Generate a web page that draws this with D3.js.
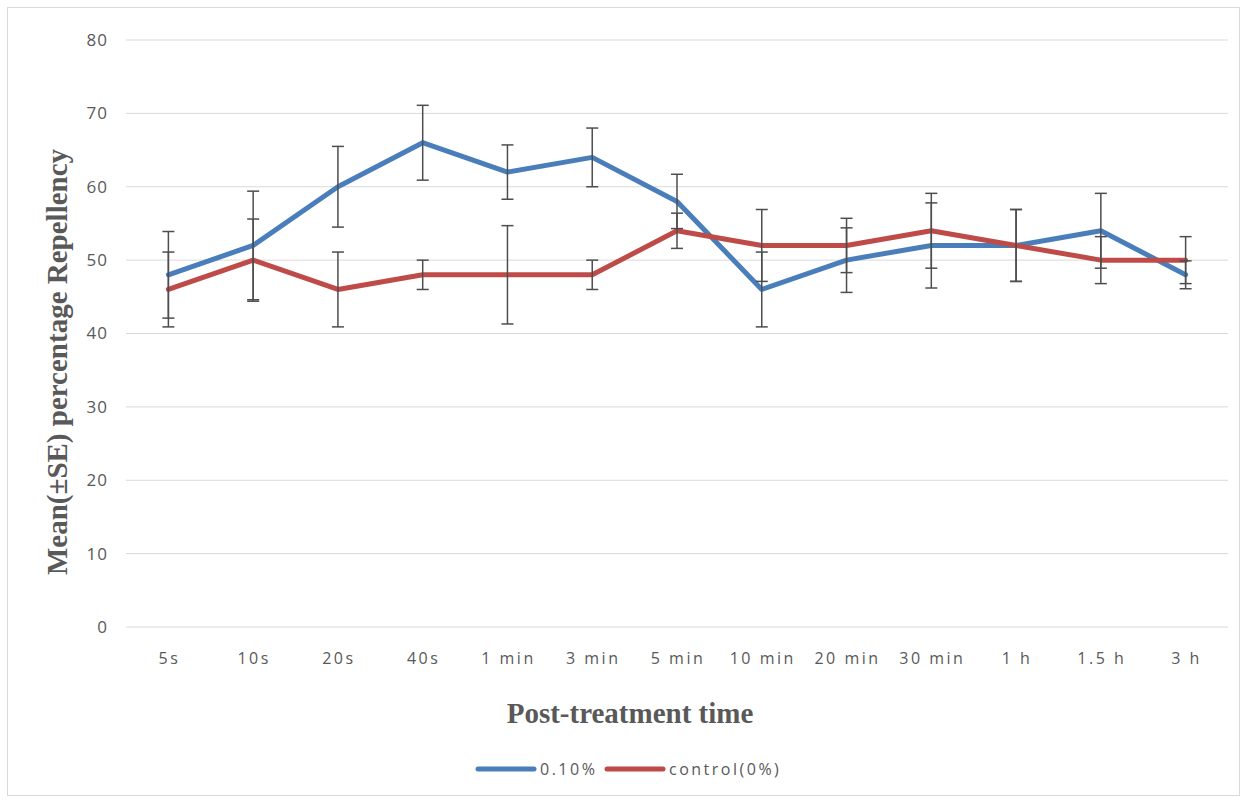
<!DOCTYPE html>
<html lang="en">
<head>
  <meta charset="UTF-8">
  <title>Repellency over time</title>
  <script src="https://d3js.org/d3.v7.min.js"></script>
  <style>
    body {
      margin: 0;
      background: #ffffff;
    }
    svg {
      display: block;
    }
    .tick-label {
      font-family: 'Open Sans', 'Liberation Sans', sans-serif;
      font-size: 16px;
      letter-spacing: 2.5px;
      fill: #595959;
    }
    .axis-title {
      font-family: 'Liberation Serif', 'DejaVu Serif', serif;
      font-weight: bold;
      font-size: 29px;
      fill: #595959;
    }
    .legend-label {
      font-family: 'Open Sans', 'Liberation Sans', sans-serif;
      font-size: 16px;
      letter-spacing: 2.5px;
      fill: #595959;
    }
  </style>
</head>
<body>
<svg width="1246" height="801"></svg>

<script>
// data
const categories = ["5s", "10s", "20s", "40s", "1 min", "3 min", "5 min", "10 min", "20 min", "30 min", "1 h", "1.5 h", "3 h"];
const treatMean = [48, 52, 60, 66, 62, 64, 58, 46, 50, 52, 52, 54, 48];
const treatSE   = [5.9, 7.4, 5.5, 5.1, 3.7, 4.0, 3.7, 5.1, 4.4, 5.8, 4.9, 5.1, 1.9];
const ctrlMean  = [46, 50, 46, 48, 48, 48, 54, 52, 52, 54, 52, 50, 50];
const ctrlSE    = [5.1, 5.6, 5.1, 2.0, 6.7, 2.0, 2.4, 4.9, 3.7, 5.1, 4.9, 3.2, 3.2];
const yTicks = [0, 10, 20, 30, 40, 50, 60, 70, 80];
const seriesNames = ["0.10%", "control(0%)"];

const svg = d3.select("svg");

// outer frame
svg.append("rect")
  .attr("x", 7.5).attr("y", 7.5)
  .attr("width", 1232).attr("height", 788)
  .attr("fill", "#fff")
  .attr("stroke", "#d9d9d9");

const x = d3.scaleBand()
  .domain(categories)
  .range([126, 1228])
  .paddingInner(0)
  .paddingOuter(0);

const y = d3.scaleLinear()
  .domain([0, 80])
  .range([627, 40]);

const cx = d => x(d) + x.bandwidth() / 2;

// gridlines
svg.append("g")
  .selectAll("line")
  .data(yTicks)
  .join("line")
  .attr("x1", 126).attr("x2", 1228)
  .attr("y1", d => y(d)).attr("y2", d => y(d))
  .attr("stroke", "#d9d9d9")
  .attr("stroke-width", 1);

// y tick labels
svg.append("g")
  .selectAll("text")
  .data(yTicks)
  .join("text")
  .attr("class", "tick-label")
  .style("letter-spacing", "1px")
  .style("font-size", "17px")
  .attr("x", 108)
  .attr("y", d => y(d))
  .attr("dy", "0.35em")
  .attr("text-anchor", "end")
  .text(d => d);

// x tick labels
svg.append("g")
  .selectAll("text")
  .data(categories)
  .join("text")
  .attr("class", "tick-label")
  .attr("x", d => cx(d) + 1)
  .attr("y", 658)
  .attr("dy", "0.35em")
  .attr("text-anchor", "middle")
  .text(d => d);

// axis titles
svg.append("text")
  .attr("class", "axis-title")
  .attr("x", 630)
  .attr("y", 713)
  .attr("dy", "0.35em")
  .attr("text-anchor", "middle")
  .text("Post-treatment time");

svg.append("text")
  .attr("class", "axis-title")
  .attr("transform", "translate(57,362) rotate(-90)")
  .attr("dy", "0.35em")
  .attr("text-anchor", "middle")
  .text("Mean(\u00B1SE) percentage Repellency");

const series = [
  { name: seriesNames[0], mean: treatMean, se: treatSE, color: "#4a7ebb" },
  { name: seriesNames[1], mean: ctrlMean, se: ctrlSE, color: "#be4b48" }
];

const line = d3.line()
  .x((d, i) => cx(categories[i]))
  .y(d => y(d));

svg.append("g")
  .selectAll("path")
  .data(series)
  .join("path")
  .attr("d", s => line(s.mean))
  .attr("fill", "none")
  .attr("stroke", s => s.color)
  .attr("stroke-width", 5)
  .attr("stroke-linejoin", "round")
  .attr("stroke-linecap", "round");

// error bars
const bars = [];
series.forEach(s => {
  s.mean.forEach((m, i) => bars.push({ cat: categories[i], lo: m - s.se[i], hi: m + s.se[i] }));
});

const eb = svg.append("g")
  .attr("stroke", "#4d4d4d")
  .attr("stroke-width", 1.5);

eb.selectAll("line.v")
  .data(bars)
  .join("line")
  .attr("class", "v")
  .attr("x1", d => cx(d.cat)).attr("x2", d => cx(d.cat))
  .attr("y1", d => y(d.lo)).attr("y2", d => y(d.hi));

eb.selectAll("line.capHi")
  .data(bars)
  .join("line")
  .attr("class", "capHi")
  .attr("x1", d => cx(d.cat) - 6).attr("x2", d => cx(d.cat) + 6)
  .attr("y1", d => y(d.hi)).attr("y2", d => y(d.hi));

eb.selectAll("line.capLo")
  .data(bars)
  .join("line")
  .attr("class", "capLo")
  .attr("x1", d => cx(d.cat) - 6).attr("x2", d => cx(d.cat) + 6)
  .attr("y1", d => y(d.lo)).attr("y2", d => y(d.lo));

// legend
const legend = svg.append("g");
const legendItems = [
  { x0: 478, color: series[0].color, label: series[0].name },
  { x0: 607, color: series[1].color, label: series[1].name }
];
legendItems.forEach(it => {
  legend.append("line")
    .attr("x1", it.x0).attr("x2", it.x0 + 56)
    .attr("y1", 769).attr("y2", 769)
    .attr("stroke", it.color)
    .attr("stroke-width", 5)
    .attr("stroke-linecap", "round");
  legend.append("text")
    .attr("class", "legend-label")
    .attr("x", it.x0 + 62)
    .attr("y", 769)
    .attr("dy", "0.35em")
    .text(it.label);
});
</script>
</body>
</html>
